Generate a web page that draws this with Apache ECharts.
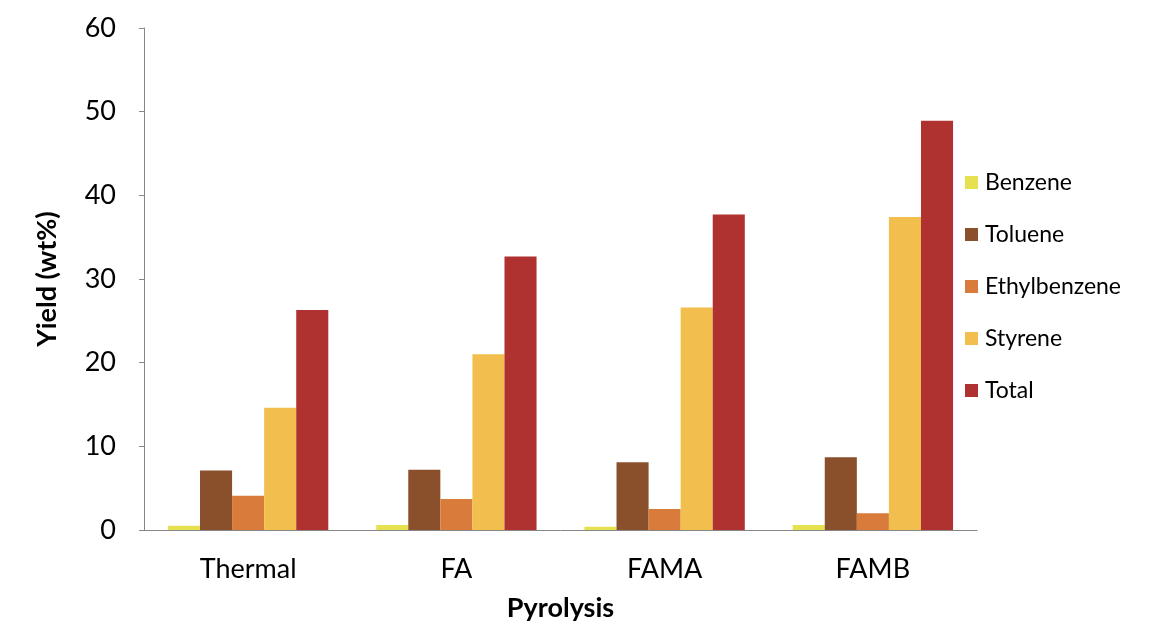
<!DOCTYPE html>
<html>
<head>
<meta charset="utf-8">
<script src="https://cdn.jsdelivr.net/npm/echarts@6/dist/echarts.min.js"></script>
<style>html,body{margin:0;padding:0;background:#fff;}#c{width:1153px;height:637px;}</style>
</head>
<body>
<div id="c"></div>
<script>
const categories = ['Thermal', 'FA', 'FAMA', 'FAMB'];
const seriesNames = ['Benzene', 'Toluene', 'Ethylbenzene', 'Styrene', 'Total'];
const benzene = [0.5, 0.6, 0.4, 0.6];
const toluene = [7.1, 7.2, 8.1, 8.7];
const ethylbenzene = [4.1, 3.7, 2.5, 2.0];
const styrene = [14.6, 21.0, 26.6, 37.4];
const total = [26.3, 32.7, 37.7, 48.9];
const colors = ['#E6E14E', '#8A4F2B', '#D97B3B', '#F2BE4D', '#B03230'];
const yTicks = [0, 10, 20, 30, 40, 50, 60];

const font = 'Lato, "Open Sans", sans-serif';
const values = [benzene, toluene, ethylbenzene, styrene, total];
const chart = echarts.init(document.getElementById('c'), null, {renderer: 'canvas'});
chart.setOption({
  animation: false,
  backgroundColor: '#ffffff',
  textStyle: {fontFamily: font},
  grid: {left: 144, right: 176, top: 28, bottom: 107},
  legend: {
    orient: 'vertical',
    left: 960,
    top: 166,
    padding: 5,
    itemWidth: 13,
    itemHeight: 13,
    itemGap: 29,
    icon: 'rect',
    textStyle: {fontFamily: font, fontSize: 23, color: '#000', lineHeight: 23, padding: [0, 0, 0, 2]},
    data: seriesNames
  },
  xAxis: {
    type: 'category',
    data: categories,
    name: 'Pyrolysis',
    nameLocation: 'middle',
    nameGap: 65,
    nameTextStyle: {fontFamily: font, fontSize: 27, fontWeight: 'bold', color: '#000'},
    axisLine: {lineStyle: {color: '#868686', width: 1}},
    axisTick: {show: false},
    axisLabel: {fontFamily: font, fontSize: 27, color: '#000', margin: 26}
  },
  yAxis: {
    type: 'value',
    min: yTicks[0],
    max: yTicks[yTicks.length - 1],
    interval: 10,
    name: 'Yield (wt%)',
    nameLocation: 'middle',
    nameGap: 83,
    nameTextStyle: {fontFamily: font, fontSize: 27, fontWeight: 'bold', color: '#000'},
    axisLine: {show: true, lineStyle: {color: '#868686', width: 1}},
    axisTick: {show: true, length: 5, lineStyle: {color: '#868686'}},
    splitLine: {show: false},
    axisLabel: {fontFamily: font, fontSize: 27, color: '#000', margin: 28}
  },
  series: seriesNames.map((n, i) => ({
    name: n,
    type: 'bar',
    data: values[i],
    barGap: '0%',
    barCategoryGap: '23%',
    itemStyle: {color: colors[i]}
  }))
});
</script>
</body>
</html>
